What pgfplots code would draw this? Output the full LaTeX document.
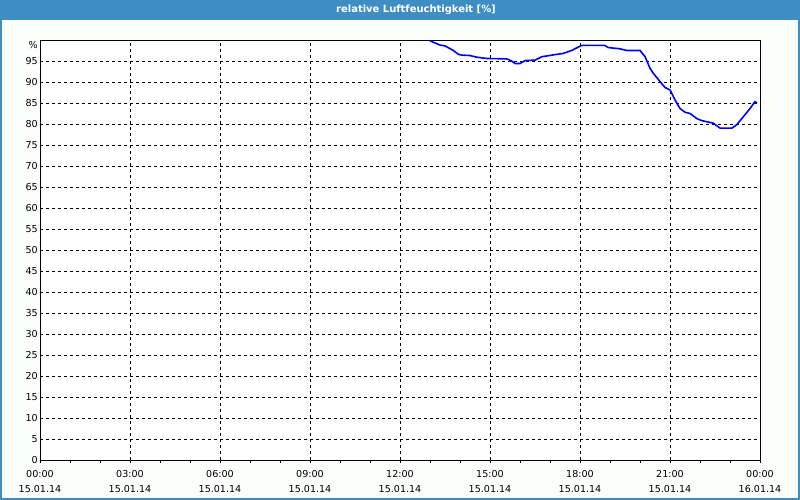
\documentclass[border=0pt]{standalone}
\usepackage{pgfplots}
\pgfplotsset{compat=1.18}
\usepackage{fontspec}
\setmainfont{DejaVu Sans}
\definecolor{barblue}{RGB}{62,142,196}
\definecolor{bgc}{RGB}{252,254,252}
\begin{document}
\begin{tikzpicture}[x=1bp,y=1bp]
\useasboundingbox (0,0) rectangle (800,500);
\fill[bgc] (0,0) rectangle (800,500);
\fill[barblue] (0,480) rectangle (800,500);
\draw[barblue, line width=2bp] (1,480) -- (1,1) -- (799,1) -- (799,480);
\node[white, font=\bfseries\fontsize{10}{12}\selectfont] at (416,490) {relative Luftfeuchtigkeit [\%]};
\begin{axis}[
  at={(40bp,40bp)}, anchor=south west,
  scale only axis, width=720bp, height=420bp,
  xmin=0, xmax=24, ymin=0, ymax=100,
  axis background/.style={fill=white},
  axis line style={black, line width=0.8bp},
  xtick={0,3,6,9,12,15,18,21,24},
  xticklabels={00:00\\15.01.14,03:00\\15.01.14,06:00\\15.01.14,09:00\\15.01.14,12:00\\15.01.14,15:00\\15.01.14,18:00\\15.01.14,21:00\\15.01.14,00:00\\16.01.14},
  minor xtick={1,2,4,5,7,8,10,11,13,14,16,17,19,20,22,23},
  ytick={0,5,...,95},
  xtick align=outside,
  xtick pos=bottom,
  major tick length=3bp, minor tick length=3bp,
  tick style={black, line width=0.8bp},
  ytick style={draw=none},
  grid=major,
  major grid style={black, line width=0.7bp, dash pattern=on 3bp off 3bp},
  xticklabel style={align=center, font=\fontsize{9.6}{15}\selectfont, inner sep=2bp, yshift=-5bp},
  yticklabel style={font=\fontsize{9.6}{11}\selectfont, inner sep=2bp},
  /pgf/number format/assume math mode=true,
  clip=false,
]
\addplot[blue, line width=1.6bp] coordinates {
(13.0,99.8) (13.33,98.8) (13.5,98.6) (13.78,97.5) (13.94,96.6) (14.06,96.4)
(14.33,96.3) (14.56,95.9) (14.89,95.6) (15.56,95.5) (15.72,95.0) (15.83,94.4)
(16.0,94.4) (16.17,95.1) (16.5,95.2) (16.72,96.0) (17.06,96.4) (17.44,96.8)
(17.72,97.5) (17.94,98.3) (18.06,98.7) (18.83,98.7) (18.94,98.2) (19.33,97.9)
(19.56,97.5) (20.0,97.5) (20.17,96.0) (20.33,93.3) (20.44,92.1) (20.61,90.6)
(20.83,88.7) (21.0,88.1) (21.17,85.7) (21.33,83.7) (21.5,82.8) (21.67,82.5)
(21.89,81.3) (22.06,80.8) (22.44,80.2) (22.67,79.0) (23.06,79.0) (23.22,79.8)
(23.44,81.7) (23.67,83.7) (23.83,85.3) (23.9,85.0)
};
\node[anchor=east, font=\fontsize{9.6}{11}\selectfont, inner sep=2bp] at (axis cs:0,98.8) {\%};
\end{axis}
\end{tikzpicture}
\end{document}
